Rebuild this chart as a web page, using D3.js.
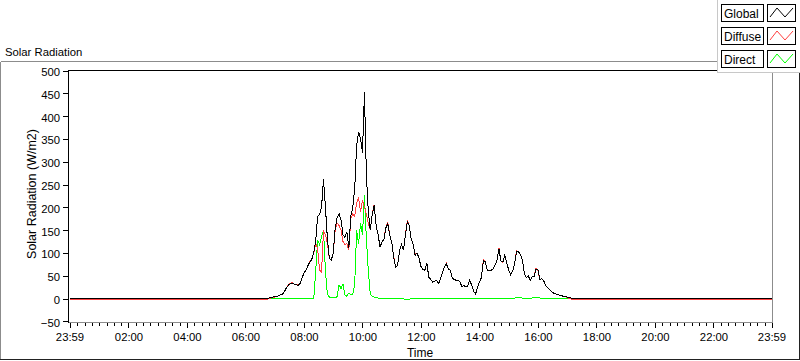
<!DOCTYPE html>
<html><head><meta charset="utf-8">
<script src="https://cdn.jsdelivr.net/npm/d3@7"></script>
<style>
body{margin:0;background:#fff;}
svg{display:block;font-family:"Liberation Sans",Arial,sans-serif;}
</style>
</head><body>
<svg id="c" width="800" height="361"></svg>
<script>
// ---------------- DATA ----------------
const seriesNames = ["Global", "Diffuse", "Direct"];
const seriesColors = ["#000000", "#ff4040", "#00ff00"];

const xTickMinutes = [-1, 120, 240, 360, 480, 600, 720, 840, 960, 1080, 1200, 1320, 1439];
const xTickLabels = ["23:59","02:00","04:00","06:00","08:00","10:00","12:00","14:00","16:00","18:00","20:00","22:00","23:59"];
const yTickValues = [-50, 0, 50, 100, 150, 200, 250, 300, 350, 400, 450, 500];

// daytime samples: every 4 minutes from 06:40 to 17:24
const sampleStart = 400, sampleStep = 4, sampleCount = 162;
const nightGlobal = 0;
const nightDiffuse = -2;

const globalVals = [
 0,0,1,2,3,4,5,6,8,10, 15,24,29,33,34,31,30,29,33,45,
 56,62,72,80,86,100,125,180,185,200, 261,200,132,88,84,100,154,178,186,172,
 140,134,146,110,180,200,240,336,365,351, 320,452,270,190,150,185,204,160,140,113,
 124,130,155,164,138,124,90,68,72,105, 118,106,138,168,160,130,118,95,100,88,
 70,64,62,78,47,42,36,38,40,33, 42,58,68,76,65,62,45,42,40,40,
 36,26,29,25,28,40,29,16,10,25, 36,46,84,80,62,62,62,65,73,85,
 108,82,80,95,78,62,52,60,76,102, 102,97,85,55,46,50,40,47,48,65,
 62,42,43,38,28,24,19,15,12,10, 9,7,6,5,4,3,2,1,0,0,
 0,0
];
const diffuseVals = [
 -2,-2,0,1,2,3,5,6,8,10, 15,24,30,33,35,31,30,30,33,45,
 56,62,72,82,86,100,120,110,62,58, 148,140,120,88,84,100,150,165,160,150,
 125,118,120,106,175,185,180,210,220,190, 215,200,185,165,150,185,206,160,140,115,
 124,130,157,166,138,124,92,68,72,105, 118,106,140,170,160,130,118,97,100,88,
 70,64,62,78,47,42,36,38,40,33, 42,58,68,78,65,62,45,42,40,40,
 36,26,29,25,28,40,29,16,10,25, 36,46,86,80,62,62,62,65,73,85,
 110,82,78,95,78,62,52,60,76,104, 102,97,85,55,46,50,40,47,48,67,
 60,42,43,38,28,24,19,15,12,10, 9,7,6,5,4,2,0,-1,-2,-2,
 -2,-2
];
const directVals = [
 null,null,0,0,0,0,0,0,0,0, 0,0,0,0,0,0,0,0,0,0,
 0,0,0,0,0,0,60,128,118,135, 150,60,10,3,2,2,2,4,30,22,
 32,8,5,12,8,10,30,150,120,165, 140,228,130,60,10,5,3,2,1,0,
 -1,-1,-1,-1,-1,-1,-1,-1,-1,-1, 0,0,-3,-3,-3,1,-1,-1,-1,-1,
 -1,-1,-1,-1,-1,-1,-1,-1,-1,-1, -1,-1,-1,-1,-1,-1,0,0,0,0,
 0,0,0,0,1,0,0,0,0,0, 0,-1,0,0,0,0,0,0,0,0,
 0,1,0,0,0,0,1,1,1,2, 2,2,1,1,1,1,1,1,3,3,
 3,1,1,1,1,1,1,1,1,1, 1,0,0,0,0,0,0,0,null,null,
 null,null
];

// ---------------- CHART ----------------
const svg = d3.select("#c");
const W = 800, H = 361;
const plot = {left: 68.5, right: 772.5, top: 70.5, bottom: 322.5};

const x = d3.scaleLinear().domain([-1, 1439]).range([69.5, 771.5]);
const y = d3.scaleLinear().domain([-50, 500]).range([321.3, 70.5]);

svg.append("rect").attr("width", W).attr("height", H).attr("fill", "#fff");

// chart title
svg.append("text").attr("x", 5).attr("y", 55.5).attr("font-size", 11.3).attr("fill", "#000")
  .text("Solar Radiation");

// outer frame
const frame = svg.append("g").attr("shape-rendering", "crispEdges");
frame.append("line").attr("x1", 0.5).attr("x2", 799).attr("y1", 61.5).attr("y2", 61.5).attr("stroke", "#8c8c8c");
frame.append("line").attr("x1", 0.5).attr("x2", 0.5).attr("y1", 61.5).attr("y2", 359.5).attr("stroke", "#8c8c8c");
frame.append("line").attr("x1", 0).attr("x2", 800).attr("y1", 359.5).attr("y2", 359.5).attr("stroke", "#222");
frame.append("line").attr("x1", 799.5).attr("x2", 799.5).attr("y1", 61).attr("y2", 360).attr("stroke", "#222");

// clip
svg.append("clipPath").attr("id", "clip").append("rect")
  .attr("x", 69).attr("y", 71).attr("width", 703).attr("height", 251);

const samples = d3.range(sampleCount).map(i => sampleStart + i * sampleStep);

function buildPts(vals, night) {
  const pts = samples.map((t, i) => [t, vals[i]]);
  if (night !== null) {
    pts.unshift([-1, night]);
    pts.push([1439, night]);
  }
  return pts;
}
const seriesPts = [
  buildPts(globalVals, nightGlobal),
  buildPts(diffuseVals, nightDiffuse),
  buildPts(directVals, null)
];

const line = d3.line()
  .defined(d => d[1] !== null)
  .x(d => x(d[0])).y(d => y(d[1]));

const gLines = svg.append("g").attr("clip-path", "url(#clip)");
// draw order: Direct, Diffuse, Global on top
[2, 1, 0].forEach(k => {
  gLines.append("path")
    .datum(seriesPts[k])
    .attr("fill", "none")
    .attr("stroke", seriesColors[k])
    .attr("stroke-width", 1)
    .attr("shape-rendering", "crispEdges")
    .attr("d", line);
});

// plot borders
const pb = svg.append("g").attr("shape-rendering", "crispEdges");
pb.append("line").attr("x1", plot.left).attr("x2", plot.right).attr("y1", plot.top - 0.5).attr("y2", plot.top - 0.5).attr("stroke", "#000");
pb.append("line").attr("x1", plot.left).attr("x2", plot.left).attr("y1", plot.top - 0.5).attr("y2", plot.bottom).attr("stroke", "#000");
pb.append("line").attr("x1", plot.right).attr("x2", plot.right).attr("y1", plot.top - 0.5).attr("y2", plot.bottom).attr("stroke", "#8c8c8c");
pb.append("line").attr("x1", plot.left).attr("x2", plot.right).attr("y1", plot.bottom).attr("y2", plot.bottom).attr("stroke", "#8c8c8c");

// y axis
const yAxis = d3.axisLeft(y).tickValues(yTickValues).tickSize(5).tickPadding(3).tickSizeOuter(0);
const gy = svg.append("g").attr("transform", "translate(68,0)").call(yAxis);
gy.select(".domain").remove();
gy.selectAll("line").attr("stroke", "#000").attr("shape-rendering", "crispEdges");
gy.selectAll("text").attr("font-size", 11.3).attr("font-family", "Liberation Sans, Arial, sans-serif").attr("fill", "#000").attr("dy", "0.45em");

// x axis major
const xAxis = d3.axisBottom(x).tickValues(xTickMinutes)
  .tickFormat((d, i) => xTickLabels[i]).tickSize(5).tickPadding(5).tickSizeOuter(0);
const gx = svg.append("g").attr("transform", "translate(0,322.5)").call(xAxis);
gx.select(".domain").remove();
gx.selectAll("line").attr("stroke", "#000").attr("shape-rendering", "crispEdges");
gx.selectAll("text").attr("font-size", 11.3).attr("font-family", "Liberation Sans, Arial, sans-serif").attr("fill", "#000");

// x axis minor
const minorTicks = d3.range(0, 1440, 15).filter(m => m % 120 !== 0 || m === 0);
const xMinor = d3.axisBottom(x).tickValues(minorTicks).tickFormat("").tickSize(3).tickSizeOuter(0);
const gxm = svg.append("g").attr("transform", "translate(0,322.5)").call(xMinor);
gxm.select(".domain").remove();
gxm.selectAll("line").attr("stroke", "#000").attr("shape-rendering", "crispEdges");

// axis titles
svg.append("text").attr("transform", "translate(36,194) rotate(-90)")
  .attr("text-anchor", "middle").attr("font-size", 12.5).attr("fill", "#000")
  .text("Solar Radiation (W/m2)");
svg.append("text").attr("x", 420).attr("y", 357).attr("text-anchor", "middle")
  .attr("font-size", 12).attr("fill", "#000").text("Time");

// legend
const lg = svg.append("g");
lg.append("rect").attr("x", 717).attr("y", -1).attr("width", 90).attr("height", 73.5).attr("fill", "#fff")
  .attr("stroke", "#c8c8c8").attr("shape-rendering", "crispEdges");
seriesNames.forEach((name, k) => {
  const oy = 4.5 + k * 23;
  lg.append("rect").attr("x", 721.5).attr("y", oy).attr("width", 42).attr("height", 17)
    .attr("fill", "#fff").attr("stroke", "#000").attr("shape-rendering", "crispEdges");
  lg.append("text").attr("x", 724).attr("y", oy + 13).attr("font-size", 12).attr("fill", "#000").text(name);
  lg.append("rect").attr("x", 767.5).attr("y", oy).attr("width", 28).attr("height", 17)
    .attr("fill", "#fff").attr("stroke", "#000").attr("shape-rendering", "crispEdges");
  lg.append("path").attr("fill", "none").attr("stroke", seriesColors[k]).attr("stroke-width", 1)
    .attr("d", `M770,${oy + 12.5} L777,${oy + 3.5} L785,${oy + 12.5} L793,${oy + 3.5}`);
});
</script>
</body></html>
